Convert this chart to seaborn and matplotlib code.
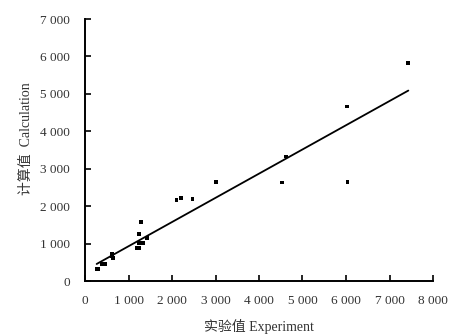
import numpy as np
import pandas as pd
import matplotlib
matplotlib.use('Agg')
import matplotlib.pyplot as plt
import seaborn as sns
from matplotlib.ticker import FuncFormatter, MultipleLocator

experiment = [268, 306, 383, 420, 460, 613, 613, 651, 1203, 1249, 1249, 1280,
              1249, 1341, 1433, 2107, 2207, 2475, 3011, 4521, 4613, 6038, 6030, 7433]
calculation = [321, 321, 455, 440, 455, 722, 668, 607, 873, 873, 1257, 1569,
               1007, 1007, 1141, 2166, 2210, 2184, 2638, 2629, 3324, 2638, 4661, 5820]

# Линия тренда: концы, как на картинке
line_x = [268, 7433]
line_y = [455, 5088]

df = pd.DataFrame({'exp': experiment, 'calc': calculation})
df_line = pd.DataFrame({'x': line_x, 'y': line_y})

sns.set_style('ticks')
plt.rcParams['font.family'] = ['Liberation Serif', 'Noto Sans CJK SC']

fig = plt.figure(figsize=(4.6, 3.36), dpi=100)
ax = fig.add_axes([85 / 460, 55 / 336, 348 / 460, 262 / 336])

sns.scatterplot(data=df, x='exp', y='calc', ax=ax, marker='s', s=7,
                color='black', edgecolor='none')
sns.lineplot(data=df_line, x='x', y='y', ax=ax, color='black', linewidth=1.3)

ax.set_xlim(0, 8000)
ax.set_ylim(0, 7000)
ax.xaxis.set_major_locator(MultipleLocator(1000))
ax.yaxis.set_major_locator(MultipleLocator(1000))
fmt = FuncFormatter(lambda v, p: f'{int(v):,}'.replace(',', ' '))
ax.xaxis.set_major_formatter(fmt)
ax.yaxis.set_major_formatter(fmt)

for s in ['top', 'right']:
    ax.spines[s].set_visible(False)
for s in ['left', 'bottom']:
    ax.spines[s].set_linewidth(1.4)
    ax.spines[s].set_color('black')

ax.tick_params(direction='in', length=4, width=1.2, labelsize=9.5,
               colors='black', labelcolor='#333333')
ax.tick_params(axis='x', pad=10)
ax.tick_params(axis='y', pad=11)

ax.set_xlabel('实验值 Experiment', fontsize=10, color='#333333')
ax.set_ylabel('计算值  Calculation', fontsize=10, color='#333333')
ax.xaxis.set_label_coords(0.5, -0.145)
ax.yaxis.set_label_coords(-0.150, 0.545)

plt.savefig('out.png', dpi=100)
